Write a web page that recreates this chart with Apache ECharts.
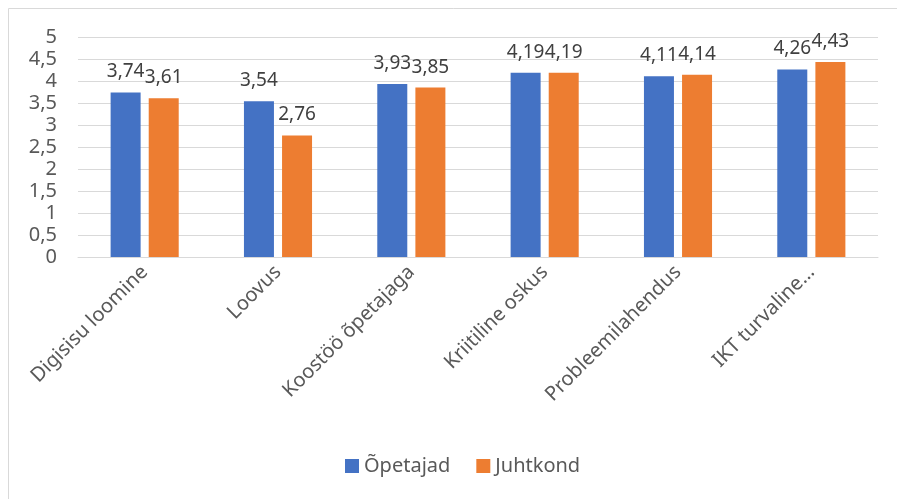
<!DOCTYPE html>
<html>
<head>
<meta charset="utf-8">
<script src="https://cdn.jsdelivr.net/npm/echarts@6/dist/echarts.min.js"></script>
<style>
  html, body { margin: 0; padding: 0; background: #fff; }
  #chart { width: 897px; height: 499px; }
</style>
</head>
<body>
<div id="chart"></div>
<script>
// Skill categories and the average scores of both groups
const categories = ['Digisisu loomine', 'Loovus', 'Koostöö õpetajaga', 'Kriitiline oskus', 'Probleemilahendus', 'IKT turvaline…'];
const teachers = [3.74, 3.54, 3.93, 4.19, 4.11, 4.26];
const leaders = [3.61, 2.76, 3.85, 4.19, 4.14, 4.43];
const seriesNames = ['Õpetajad', 'Juhtkond'];

const FONT = '"Noto Sans", "Open Sans", sans-serif';
const fmt = v => String(v).replace('.', ',');

const chart = echarts.init(document.getElementById('chart'), null, { renderer: 'canvas' });

function barSeries(name, data, color) {
  return {
    name: name,
    type: 'bar',
    data: data,
    barWidth: 30,
    barGap: '27%',
    itemStyle: { color: color },
    label: {
      show: true,
      position: 'top',
      distance: 11,
      color: '#404040',
      fontFamily: FONT,
      fontSize: 19,
      formatter: p => fmt(p.value)
    }
  };
}

chart.setOption({
  animation: false,
  graphic: [{
    type: 'rect',
    shape: { x: 8.5, y: 8.5, width: 900, height: 500 },
    style: { fill: 'none', stroke: '#d9d9d9', lineWidth: 1 },
    silent: true
  }],
  grid: { left: 78, right: 19, top: 37, bottom: 242, containLabel: false },
  legend: {
    data: seriesNames,
    bottom: 18,
    left: 340,
    itemWidth: 14,
    itemHeight: 14,
    itemGap: 26,
    icon: 'rect',
    textStyle: { color: '#595959', fontFamily: FONT, fontSize: 20 }
  },
  xAxis: {
    type: 'category',
    data: categories,
    axisLine: { lineStyle: { color: '#d9d9d9', width: 1 } },
    axisTick: { show: false },
    axisLabel: {
      rotate: 45,
      interval: 0,
      margin: 12,
      color: '#595959',
      fontFamily: FONT,
      fontSize: 20
    }
  },
  yAxis: {
    type: 'value',
    min: 0,
    max: 5,
    interval: 0.5,
    axisLine: { show: false },
    axisTick: { show: false },
    splitLine: { lineStyle: { color: '#d9d9d9', width: 1 } },
    axisLabel: {
      margin: 21,
      color: '#595959',
      fontFamily: FONT,
      fontSize: 20,
      formatter: v => fmt(v)
    }
  },
  series: [
    barSeries(seriesNames[0], teachers, '#4472c4'),
    barSeries(seriesNames[1], leaders, '#ed7d31')
  ]
});
</script>
</body>
</html>
